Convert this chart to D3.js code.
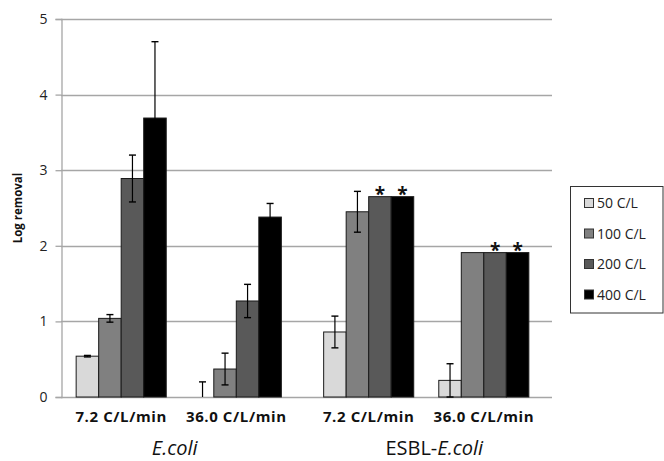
<!DOCTYPE html>
<html>
<head>
<meta charset="utf-8">
<script src="https://cdn.jsdelivr.net/npm/d3@7"></script>
<style>
  html, body { margin: 0; padding: 0; background: #fff; }
  svg { display: block; font-family: "Open Sans", "DejaVu Sans", sans-serif; }
</style>
</head>
<body>
<svg id="chart" width="664" height="461"></svg>
<script>
// ---- data ----
const species = ["E.coli", "ESBL-E.coli"];
const flowRates = ["7.2 C/L/min", "36.0 C/L/min"];
const concentrations = ["50 C/L", "100 C/L", "200 C/L", "400 C/L"];
const yTicks = [0, 1, 2, 3, 4, 5];

const ecoli72Values   = [0.54, 1.04, 2.89, 3.69];
const ecoli72Errors   = [0.01, 0.05, 0.31, 1.01];
const ecoli360Values  = [0.00, 0.37, 1.27, 2.38];
const ecoli360Errors  = [0.20, 0.21, 0.22, 0.18];
const esbl72Values    = [0.86, 2.45, 2.65, 2.65];
const esbl72Errors    = [0.21, 0.27, 0.00, 0.00];
const esbl360Values   = [0.22, 1.91, 1.91, 1.91];
const esbl360Errors   = [0.22, 0.00, 0.00, 0.00];
const esbl72Stars     = [false, false, true, true];
const esbl360Stars    = [false, false, true, true];

const groups = [
  { species: species[0], flow: flowRates[0], values: ecoli72Values,  errors: ecoli72Errors,  stars: [false,false,false,false] },
  { species: species[0], flow: flowRates[1], values: ecoli360Values, errors: ecoli360Errors, stars: [false,false,false,false] },
  { species: species[1], flow: flowRates[0], values: esbl72Values,   errors: esbl72Errors,   stars: esbl72Stars },
  { species: species[1], flow: flowRates[1], values: esbl360Values,  errors: esbl360Errors,  stars: esbl360Stars }
];

// ---- style ----
const fills = ["#d9d9d9", "#808080", "#595959", "#000000"];
const gridColor = "#a6a6a6";

// ---- layout ----
const svg = d3.select("#chart");
const plotLeft = 61, plotRight = 552, plotTop = 19, plotBottom = 397;

const y = d3.scaleLinear().domain([0, 5]).range([plotBottom, plotTop]);
const xSpecies = d3.scaleBand().domain(species).range([55, 550]).padding(0);
const xFlow = d3.scaleBand().domain(flowRates).range([0, xSpecies.bandwidth()])
  .paddingInner(0).paddingOuter(0.075);
const xConc = d3.scaleBand().domain(concentrations).range([0, xFlow.bandwidth()])
  .paddingInner(0).paddingOuter(0.556);

// gridlines
svg.append("g").selectAll("line").data(yTicks).join("line")
  .attr("x1", plotLeft).attr("x2", plotRight)
  .attr("y1", d => Math.round(y(d)) + 0.5).attr("y2", d => Math.round(y(d)) + 0.5)
  .attr("stroke", gridColor).attr("stroke-width", 1.3);

// y axis
const yAxis = svg.append("g").attr("transform", `translate(${plotLeft + 0.5},0)`)
  .call(d3.axisLeft(y).tickValues(yTicks).tickFormat(d3.format("d")).tickSize(6).tickPadding(8));
yAxis.select(".domain").attr("stroke", gridColor).attr("stroke-width", 1.3);
yAxis.selectAll(".tick line").attr("stroke", gridColor).attr("stroke-width", 1.3);
yAxis.selectAll(".tick text").attr("font-size", 14).attr("fill", "#222")
  .attr("font-family", "'Open Sans', sans-serif");

// y axis title
svg.append("text")
  .attr("transform", `translate(22,${(plotTop + plotBottom) / 2}) rotate(-90)`)
  .attr("text-anchor", "middle")
  .attr("font-size", 11.5).attr("font-weight", "bold").attr("fill", "#111")
  .text("Log removal");

// bars
const gGroups = svg.append("g").selectAll("g").data(groups).join("g")
  .attr("transform", d => `translate(${xSpecies(d.species) + xFlow(d.flow)},0)`);

gGroups.each(function (g) {
  const sel = d3.select(this);
  const rows = concentrations.map((c, i) => ({ c, v: g.values[i], e: g.errors[i], star: g.stars[i], i }));

  sel.selectAll("rect").data(rows).join("rect")
    .attr("x", d => xConc(d.c))
    .attr("width", xConc.bandwidth())
    .attr("y", d => y(d.v))
    .attr("height", d => y(0) - y(d.v))
    .attr("fill", d => fills[d.i])
    .attr("stroke", d => d.v > 0 ? "#1a1a1a" : "none")
    .attr("stroke-width", 1);

  const errRows = rows.filter(d => d.e > 0);
  const cap = 3.5;
  errRows.forEach(d => {
    const cx = xConc(d.c) + xConc.bandwidth() / 2;
    const hi = d.v + d.e, lo = Math.max(0, d.v - d.e);
    sel.append("line").attr("x1", cx).attr("x2", cx)
      .attr("y1", y(hi)).attr("y2", y(lo)).attr("stroke", "#000").attr("stroke-width", 1.2);
    sel.append("line").attr("x1", cx - cap).attr("x2", cx + cap)
      .attr("y1", y(hi)).attr("y2", y(hi)).attr("stroke", "#000").attr("stroke-width", 1.4);
    if (d.v - d.e >= 0) {
      sel.append("line").attr("x1", cx - cap).attr("x2", cx + cap)
        .attr("y1", y(lo)).attr("y2", y(lo)).attr("stroke", "#000").attr("stroke-width", 1.4);
    }
  });

  sel.selectAll("text.star").data(rows.filter(d => d.star)).join("text")
    .attr("class", "star")
    .attr("x", d => xConc(d.c) + xConc.bandwidth() / 2)
    .attr("y", d => y(d.v) + 4)
    .attr("text-anchor", "middle")
    .attr("font-size", 19).attr("font-weight", "bold").attr("fill", "#111")
    .text("*");
});

// flow-rate labels
svg.append("g").selectAll("text").data(groups).join("text")
  .attr("x", d => xSpecies(d.species) + xFlow(d.flow) + xFlow.bandwidth() / 2)
  .attr("y", 422)
  .attr("text-anchor", "middle")
  .attr("font-size", 15).attr("font-weight", "bold").attr("letter-spacing", 0.6).attr("fill", "#111")
  .text(d => d.flow);

// species labels
const spLabels = svg.append("g").selectAll("text").data(species).join("text")
  .attr("x", d => xSpecies(d) + xSpecies.bandwidth() / 2 + (d === "E.coli" ? -4 : 8))
  .attr("y", 455)
  .attr("text-anchor", "middle")
  .attr("font-size", 20).attr("fill", "#111");
spLabels.each(function (d) {
  const t = d3.select(this);
  if (d.startsWith("ESBL-")) {
    t.append("tspan").text("ESBL-");
    t.append("tspan").attr("font-style", "italic").text(d.slice(5));
  } else {
    t.append("tspan").attr("font-style", "italic").text(d);
  }
});

// legend
const legend = svg.append("g");
legend.append("rect")
  .attr("x", 570.5).attr("y", 186.5).attr("width", 92.5).attr("height", 126.5)
  .attr("fill", "#fff").attr("stroke", "#333").attr("stroke-width", 1);
const legItems = legend.selectAll("g").data(concentrations).join("g")
  .attr("transform", (d, i) => `translate(584,${203 + i * 30.5})`);
legItems.append("rect")
  .attr("x", 0.5).attr("y", -4.5).attr("width", 9).attr("height", 9)
  .attr("fill", (d, i) => fills[i]).attr("stroke", "#333").attr("stroke-width", 1);
legItems.append("text")
  .attr("x", 13).attr("y", 5)
  .attr("font-size", 14).attr("fill", "#222")
  .text(d => d);
</script>
</body>
</html>
